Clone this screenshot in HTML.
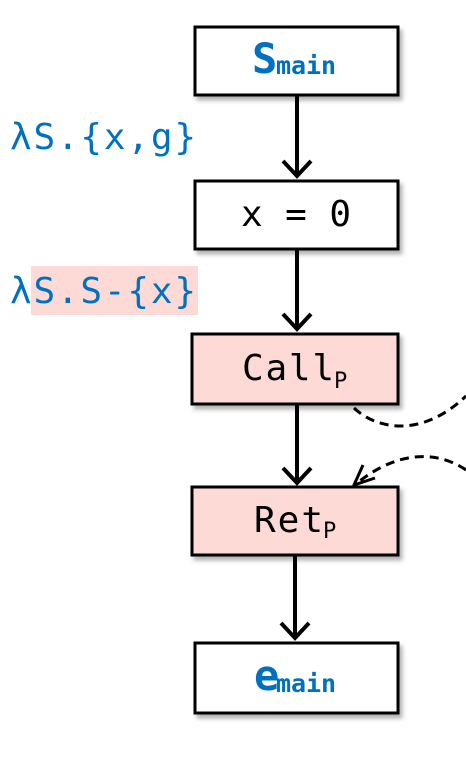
<!DOCTYPE html>
<html><head><style>
body{margin:0;width:466px;height:758px;background:#fff;overflow:hidden}
svg{display:block}
text{font-family:"DejaVu Sans Mono","Liberation Mono",monospace}
</style></head><body>
<svg width="466" height="758" viewBox="0 0 466 758">
<defs><filter id="sh" x="-10%" y="-10%" width="130%" height="140%"><feDropShadow dx="3" dy="4" stdDeviation="2" flood-color="#000" flood-opacity="0.3"/></filter></defs>
<g stroke="#000" stroke-width="3">
<rect x="195" y="27" width="203" height="68" fill="#fff" filter="url(#sh)"/>
<rect x="195" y="181" width="203" height="68" fill="#fff" filter="url(#sh)"/>
<rect x="192" y="334" width="206" height="70" fill="#fddad6" filter="url(#sh)"/>
<rect x="192" y="487" width="206" height="68" fill="#fddad6" filter="url(#sh)"/>
<rect x="195" y="643" width="203" height="70" fill="#fff" filter="url(#sh)"/>
</g>
<g stroke="#000" stroke-width="4" fill="none">
<line x1="297" y1="96" x2="297" y2="176"/><polyline points="283,161 297,176 311,161"/>
<line x1="297" y1="250" x2="297" y2="329"/><polyline points="283,314 297,329 311,314"/>
<line x1="297" y1="405" x2="297" y2="483"/><polyline points="283,468 297,483 311,468"/>
<line x1="295" y1="556" x2="295" y2="638"/><polyline points="281,623 295,638 309,623"/>
</g>
<g stroke="#000" stroke-width="3" fill="none" stroke-dasharray="9,6">
<path d="M354,408 C375,428 420,440 466,396"/>
<path d="M466,470 C440,452 400,448 356,484"/>
</g>
<polyline points="363,465 354,485 375,478" stroke="#000" stroke-width="3" fill="none"/>
<text x="252" y="73" font-size="42" font-weight="bold" fill="#0070c0" font-family="Liberation Sans,sans-serif">S</text>
<text x="276" y="74" font-size="25" font-weight="bold" fill="#0070c0" textLength="60">main</text>
<text x="296" y="226" font-size="36" text-anchor="middle" fill="#000" textLength="110">x = 0</text>
<text x="242" y="380" font-size="36" fill="#000" textLength="92">Call</text>
<text x="334" y="388" font-size="22" fill="#000">P</text>
<text x="254" y="532" font-size="36" fill="#000" textLength="69">Ret</text>
<text x="323" y="538" font-size="22" fill="#000">P</text>
<text x="254" y="690" font-size="42" font-weight="bold" fill="#0070c0" font-family="Liberation Sans,sans-serif">e</text>
<text x="276" y="692" font-size="25" font-weight="bold" fill="#0070c0" textLength="60">main</text>
<rect x="31" y="266" width="167" height="49" fill="#fddad6"/>
<text x="10" y="149" font-size="36" fill="#0070c0" textLength="186">λS.{x,g}</text>
<text x="10" y="303" font-size="36" fill="#0070c0" textLength="186">λS.S-{x}</text>
</svg>
</body></html>
